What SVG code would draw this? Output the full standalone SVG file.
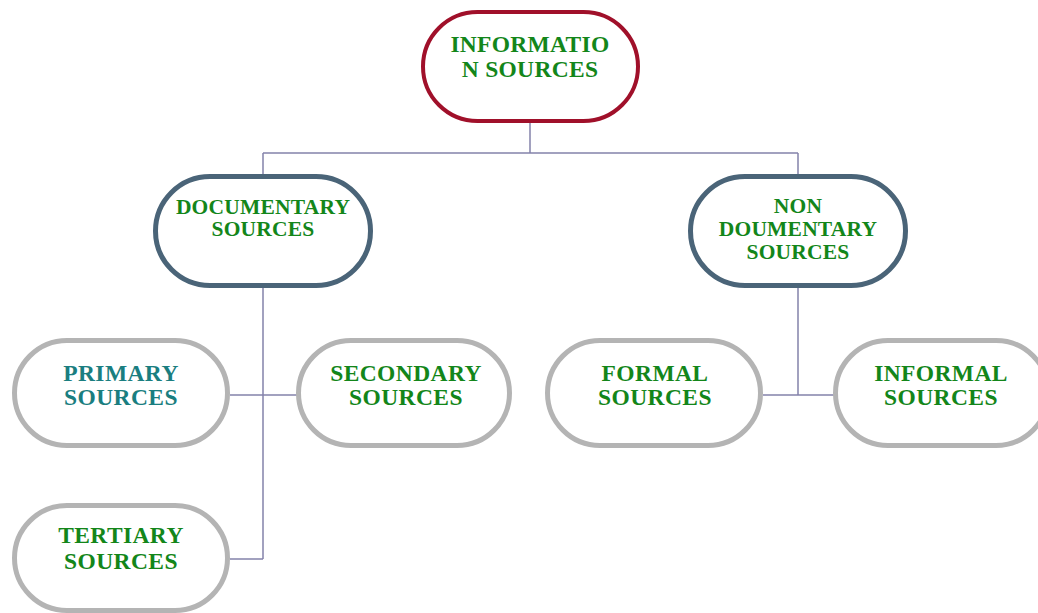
<svg xmlns="http://www.w3.org/2000/svg" width="1038" height="613" viewBox="0 0 1038 613">
<style>
.n{fill:#fff}
.top{stroke:#A0102A;stroke-width:4}
.mid{stroke:#4A6478;stroke-width:5}
.low{stroke:#B4B4B4;stroke-width:5}
text{font-family:"Liberation Serif","Times New Roman",serif;font-weight:bold;text-anchor:middle;fill:#13861A}
.t1{font-size:23.5px;letter-spacing:0.3px}
.t2{font-size:21.5px;letter-spacing:0.2px}
.t3{font-size:23.5px;letter-spacing:0.4px}
.teal{fill:#1A7E80}
.c{stroke:#8482AA;stroke-width:1.5;fill:none}
</style>
<rect width="1038" height="613" fill="#fff"/>
<g id="connectors">
<path class="c" d="M530 123V153M263 153H798M263 153V175M798 153V175"/>
<path class="c" d="M263 288V559M230 395H297M230 559H263"/>
<path class="c" d="M798 288V395M763 395H834"/>
</g>
<g id="info">
<rect class="n top" x="423" y="12" width="215" height="109" rx="54.5"/>
<text class="t1" x="530" y="52">INFORMATIO</text>
<text class="t1" x="530" y="77">N SOURCES</text>
</g>
<g id="documentary">
<rect class="n mid" x="155.5" y="176.5" width="215" height="109" rx="54.5"/>
<text class="t2" x="263" y="214">DOCUMENTARY</text>
<text class="t2" x="263" y="236">SOURCES</text>
</g>
<g id="nondocumentary">
<rect class="n mid" x="690.5" y="176.5" width="215" height="109" rx="54.5"/>
<text class="t2" x="798" y="213">NON</text>
<text class="t2" x="798" y="236">DOUMENTARY</text>
<text class="t2" x="798" y="259">SOURCES</text>
</g>
<g id="primary">
<rect class="n low" x="14.5" y="340.5" width="213" height="105" rx="52.5"/>
<text class="t3 teal" x="121" y="381">PRIMARY</text>
<text class="t3 teal" x="121" y="405">SOURCES</text>
</g>
<g id="secondary">
<rect class="n low" x="298.5" y="340.5" width="211" height="105" rx="52.5"/>
<text class="t3" x="406" y="381">SECONDARY</text>
<text class="t3" x="406" y="405">SOURCES</text>
</g>
<g id="formal">
<rect class="n low" x="547.5" y="340.5" width="213" height="105" rx="52.5"/>
<text class="t3" x="655" y="381">FORMAL</text>
<text class="t3" x="655" y="405">SOURCES</text>
</g>
<g id="informal">
<rect class="n low" x="835.5" y="340.5" width="213" height="105" rx="52.5"/>
<text class="t3" x="941" y="381">INFORMAL</text>
<text class="t3" x="941" y="405">SOURCES</text>
</g>
<g id="tertiary">
<rect class="n low" x="14.5" y="505.5" width="213" height="105" rx="52.5"/>
<text class="t3" x="121" y="543">TERTIARY</text>
<text class="t3" x="121" y="569">SOURCES</text>
</g>
</svg>
